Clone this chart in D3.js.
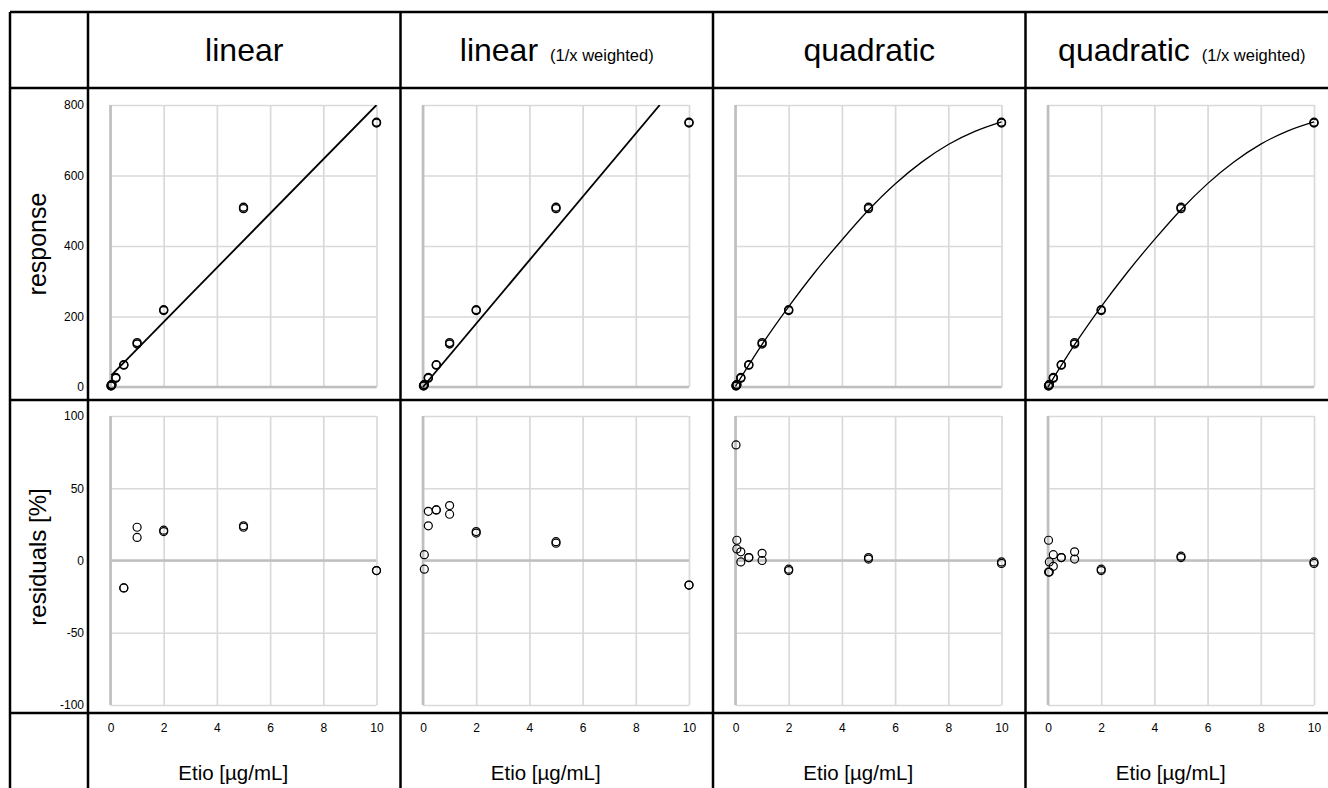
<!DOCTYPE html>
<html>
<head>
<meta charset="utf-8">
<script src="https://cdn.jsdelivr.net/npm/d3@7"></script>
<style>
  body { margin: 0; background: #fff; }
  text { font-family: "Liberation Sans", Arial, sans-serif; }
</style>
</head>
<body>
<svg width="1328" height="788"></svg>
<script>
// nominal concentrations (two injections per level) and measured responses
const conc = [0.02, 0.02, 0.05, 0.05, 0.2, 0.2, 0.5, 0.5, 1, 1, 2, 2, 5, 5, 10, 10];
const response = [3, 4, 6, 7, 25, 27, 62, 63, 122, 126, 217, 219, 506, 510, 749, 751];

// column headers
const modelNames = ['linear', 'linear', 'quadratic', 'quadratic'];
const modelNotes = ['', '(1/x weighted)', '', '(1/x weighted)'];

// fitted curves, [conc, response]
const fitLinear = [[0.03, 33], [10, 800]];
const fitLinearW = [[0, 0], [8.9, 800]];
const fitQuad = [[0, 2], [1, 121], [2, 228], [3, 327], [4, 417], [5, 502], [6, 576], [7, 638], [8, 688], [9, 725], [10, 752]];
const fitQuadW = [[0, 0], [1, 120], [2, 228], [3, 327], [4, 418], [5, 503], [6, 577], [7, 639], [8, 689], [9, 726], [10, 752]];

// residuals in %, null = outside the -100..100 window
const residLinear = [null, null, null, null, null, null, -19, -19, 23, 16, 21, 20, 24, 23, -7, -7];
const residLinearW = [null, null, 4, -6, 24, 34, 35, 35, 38, 32, 20, 19, 13, 12, -17, -17];
const residQuad = [80, null, 14, 8, 6, -1, 2, 2, 5, 0, -6, -7, 1, 2, -1, -2];
const residQuadW = [14, -8, -1, -8, 4, -4, 2, 2, 6, 1, -6, -7, 2, 3, -1, -2];

// axis ticks
const xTicks = [0, 2, 4, 6, 8, 10];
const respTicks = [0, 200, 400, 600, 800];
const residTicks = [-100, -50, 0, 50, 100];
const xLabel = 'Etio [µg/mL]';

const fits = [fitLinear, fitLinearW, fitQuad, fitQuadW];
const resids = [residLinear, residLinearW, residQuad, residQuadW];

const svg = d3.select('svg');

// table geometry
const left = 10, firstCol = 88, colW = 312.5;
const rowY = [12, 88, 400, 713, 800];
const plotPad = 22.5, plotW = 266;
const topRange = [387, 105];
const resRange = [705, 416];

const gridColor = '#d9d9d9';
const axisColor = '#bfbfbf';
const font = '"Liberation Sans", Arial, sans-serif';

const yResp = d3.scaleLinear().domain([0, 800]).range(topRange);
const yRes = d3.scaleLinear().domain([-100, 100]).range(resRange);

const line = d3.line().curve(d3.curveMonotoneX);

modelNames.forEach((name, i) => {
  const x0 = firstCol + i * colW;
  const px = x0 + plotPad;
  const x = d3.scaleLinear().domain([0, 10]).range([px, px + plotW]);

  // header
  const head = svg.append('text')
    .attr('x', x0 + colW / 2)
    .attr('y', 61)
    .attr('text-anchor', 'middle')
    .attr('font-size', '32px')
    .attr('fill', '#000');
  head.append('tspan').text(name);
  if (modelNotes[i]) {
    head.append('tspan').attr('font-size', '16.5px').attr('dx', 12).text(modelNotes[i]);
  }

  // two stacked plots: response and residuals
  [[yResp, respTicks], [yRes, residTicks]].forEach(([y, ticks], k) => {
    const g = svg.append('g');

    g.append('g')
      .attr('transform', `translate(0,${y.range()[0]})`)
      .call(d3.axisBottom(x).tickValues(xTicks).tickSize(-(y.range()[0] - y.range()[1])).tickFormat(''))
      .call(s => s.select('.domain').remove())
      .selectAll('line').attr('stroke', gridColor).attr('stroke-width', 1.7);

    g.append('g')
      .attr('transform', `translate(${px},0)`)
      .call(d3.axisLeft(y).tickValues(ticks).tickSize(-plotW).tickFormat(''))
      .call(s => s.select('.domain').remove())
      .selectAll('line').attr('stroke', gridColor).attr('stroke-width', 1.7);

    // darker axis lines: left edge and the zero line
    g.append('line')
      .attr('x1', px).attr('x2', px)
      .attr('y1', y.range()[0]).attr('y2', y.range()[1])
      .attr('stroke', axisColor).attr('stroke-width', 2.6);
    g.append('line')
      .attr('x1', px).attr('x2', px + plotW)
      .attr('y1', y(0)).attr('y2', y(0))
      .attr('stroke', axisColor).attr('stroke-width', 2.6);

    if (k === 0) {
      const clipId = `clip${i}`;
      svg.append('clipPath').attr('id', clipId)
        .append('rect')
        .attr('x', px - 2).attr('y', topRange[1])
        .attr('width', plotW + 4).attr('height', topRange[0] - topRange[1] + 2);
      line.x(d => x(d[0])).y(d => y(d[1]));
      g.append('path')
        .datum(fits[i])
        .attr('clip-path', `url(#${clipId})`)
        .attr('fill', 'none')
        .attr('stroke', '#000')
        .attr('stroke-width', i < 2 ? 1.8 : 1.3)
        .attr('d', line);

      g.selectAll('circle')
        .data(conc.map((c, j) => [c, response[j]]))
        .join('circle')
        .attr('cx', d => x(d[0]))
        .attr('cy', d => y(d[1]))
        .attr('r', 4)
        .attr('fill', 'none')
        .attr('stroke', '#000')
        .attr('stroke-width', 1.4);
    } else {
      g.selectAll('circle')
        .data(conc.map((c, j) => [c, resids[i][j]]).filter(d => d[1] !== null))
        .join('circle')
        .attr('cx', d => x(d[0]))
        .attr('cy', d => y(d[1]))
        .attr('r', 4)
        .attr('fill', 'none')
        .attr('stroke', '#000')
        .attr('stroke-width', 1.2);
    }

    // y tick labels only in the first column
    if (i === 0) {
      svg.append('g')
        .attr('transform', `translate(${firstCol - 4},0)`)
        .call(d3.axisLeft(y).tickValues(ticks).tickSize(0).tickPadding(0).tickFormat(d => String(d)))
        .call(s => s.select('.domain').remove())
        .selectAll('text')
        .attr('font-family', font)
        .attr('font-size', '12px')
        .attr('fill', '#000');
    }
  });

  // x tick labels and axis title in the bottom row
  svg.append('g')
    .attr('transform', `translate(0,${rowY[3]})`)
    .call(d3.axisBottom(x).tickValues(xTicks).tickSize(0).tickPadding(10).tickFormat(d => String(d)))
    .call(s => s.select('.domain').remove())
    .selectAll('text')
    .attr('font-family', font)
    .attr('font-size', '12px')
    .attr('fill', '#000');

  svg.append('text')
    .attr('x', x0 + colW / 2 - 11)
    .attr('y', 780)
    .attr('text-anchor', 'middle')
    .attr('font-size', '20.5px')
    .text(xLabel);
});

// row titles
[['response', 244, 25], ['residuals [%]', 557, 24]].forEach(([t, cy, fs]) => {
  svg.append('text')
    .attr('transform', `translate(46,${cy}) rotate(-90)`)
    .attr('text-anchor', 'middle')
    .attr('font-size', `${fs}px`)
    .text(t);
});

// table rules
const rules = svg.append('g').attr('stroke', '#000').attr('stroke-width', 2.5);
rowY.slice(0, 4).forEach(yy => {
  rules.append('line').attr('x1', left).attr('x2', 1328).attr('y1', yy).attr('y2', yy);
});
[left, firstCol, firstCol + colW, firstCol + 2 * colW, firstCol + 3 * colW].forEach(xx => {
  rules.append('line').attr('x1', xx).attr('x2', xx).attr('y1', rowY[0]).attr('y2', 788);
});
</script>
</body>
</html>
